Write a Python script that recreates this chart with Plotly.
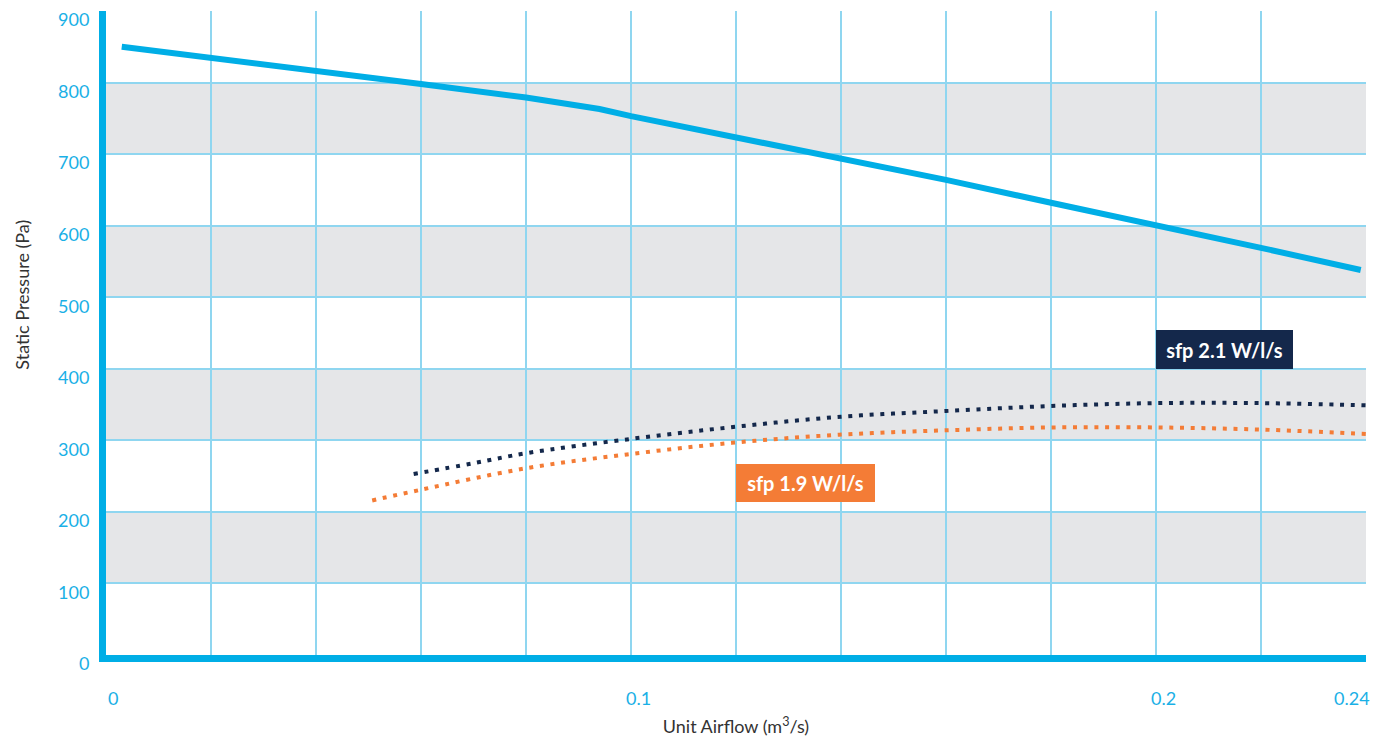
import plotly.graph_objects as go

# ---- data ----
main_x = [0.003, 0.02, 0.04, 0.06, 0.08, 0.094, 0.1, 0.12, 0.14, 0.16, 0.18, 0.2, 0.22, 0.239]
main_y = [850, 835, 816, 798, 779, 763, 753, 724, 694, 664, 632, 601, 569, 538]

sfp21_x = [0.0586, 0.07, 0.08, 0.1, 0.12, 0.14, 0.16, 0.18, 0.2, 0.22, 0.24]
sfp21_y = [253, 268, 282, 302, 319, 333, 341, 348, 352, 352, 349]

sfp19_x = [0.0507, 0.06, 0.08, 0.1, 0.12, 0.14, 0.16, 0.18, 0.2, 0.22, 0.24]
sfp19_y = [216, 231, 261, 281, 297, 308, 314, 318, 318, 315, 309]

band_ranges = [(100, 200), (300, 400), (500, 600), (700, 800)]

y_tick_vals = [0, 100, 200, 300, 400, 500, 600, 700, 800, 900]
x_grid_vals = [0, 0.02, 0.04, 0.06, 0.08, 0.1, 0.12, 0.14, 0.16, 0.18, 0.2, 0.22, 0.24]
x_tick_vals = [0, 0.1, 0.2, 0.24]
x_tick_text = ["0", "0.1", "0.2", "0.24"]

x_title = "Unit Airflow (m<sup>3</sup>/s)"
y_title = "Static Pressure (Pa)"

label_21 = "sfp 2.1 W/l/s"
label_19 = "sfp 1.9 W/l/s"
label_21_pos = (0.2, 400)
label_19_pos = (0.12, 267)

# ---- style ----
BLUE = "#00aee6"
NAVY = "#14284b"
ORANGE = "#f47c36"
GRID = "#8fd6f0"
BAND = "#e5e6e8"
TICK = "#1ab0e6"
TITLE = "#333333"
FONT = "Lato"

fig = go.Figure()

fig.add_trace(go.Scatter(x=main_x, y=main_y, mode="lines",
                         line=dict(color=BLUE, width=6), hoverinfo="skip"))
fig.add_trace(go.Scatter(x=sfp21_x, y=sfp21_y, mode="lines",
                         line=dict(color=NAVY, width=4, dash="4px,6.7px", shape="spline"),
                         hoverinfo="skip"))
fig.add_trace(go.Scatter(x=sfp19_x, y=sfp19_y, mode="lines",
                         line=dict(color=ORANGE, width=4, dash="4px,6.7px", shape="spline"),
                         hoverinfo="skip"))

for lo, hi in band_ranges:
    fig.add_shape(type="rect", xref="paper", x0=0, x1=1, yref="y", y0=lo, y1=hi,
                  fillcolor=BAND, line_width=0, layer="below")

annotations = []
for v, t in zip(x_tick_vals, x_tick_text):
    last = (v == x_tick_vals[-1])
    annotations.append(dict(
        x=v, xref="x", y=0, yref="paper", text=t, showarrow=False,
        xanchor="right" if last else "center", yanchor="middle",
        xshift=6 if last else 7, yshift=-43,
        font=dict(family=FONT, size=18, color=TICK)))

annotations.append(dict(
    x=0, xref="paper", y=0.5595, yref="paper", text=y_title, showarrow=False,
    textangle=-90, xanchor="center", yanchor="middle", xshift=-84,
    font=dict(family=FONT, size=18, color=TITLE)))

annotations.append(dict(
    x=label_21_pos[0], y=label_21_pos[1], xref="x", yref="y",
    text="<b>" + label_21 + "</b>", showarrow=False,
    xanchor="left", yanchor="bottom", align="center",
    bgcolor=NAVY, borderwidth=0, borderpad=0, width=137, height=39,
    font=dict(family=FONT, size=20, color="white")))
annotations.append(dict(
    x=label_19_pos[0], y=label_19_pos[1], xref="x", yref="y",
    text="<b>" + label_19 + "</b>", showarrow=False,
    xanchor="left", yanchor="top", align="center",
    bgcolor=ORANGE, borderwidth=0, borderpad=0, width=139, height=38,
    font=dict(family=FONT, size=20, color="white")))

fig.update_layout(
    width=1371, height=732,
    margin=dict(l=98, r=13, t=0, b=85),
    plot_bgcolor="white", paper_bgcolor="white",
    showlegend=False,
    annotations=annotations,
    font=dict(family=FONT, color=TITLE),
)

fig.update_xaxes(
    range=[0, 0.24], tickvals=x_grid_vals, showticklabels=False, ticks="",
    showgrid=True, gridcolor=GRID, gridwidth=1.5, zeroline=False,
    showline=True, linecolor=BLUE, linewidth=7,
    title=dict(text=x_title, standoff=62,
               font=dict(family=FONT, size=18, color=TITLE)),
)
fig.update_yaxes(
    range=[0, 900], tickvals=y_tick_vals, ticks="",
    showgrid=True, gridcolor=GRID, gridwidth=1.5, zeroline=False,
    showline=True, linecolor=BLUE, linewidth=7,
    tickfont=dict(family=FONT, size=18, color=TICK),
    ticklabelshift=9, ticklabelstandoff=6, ticklabeloverflow="allow",
)

fig.write_html("out.html")
